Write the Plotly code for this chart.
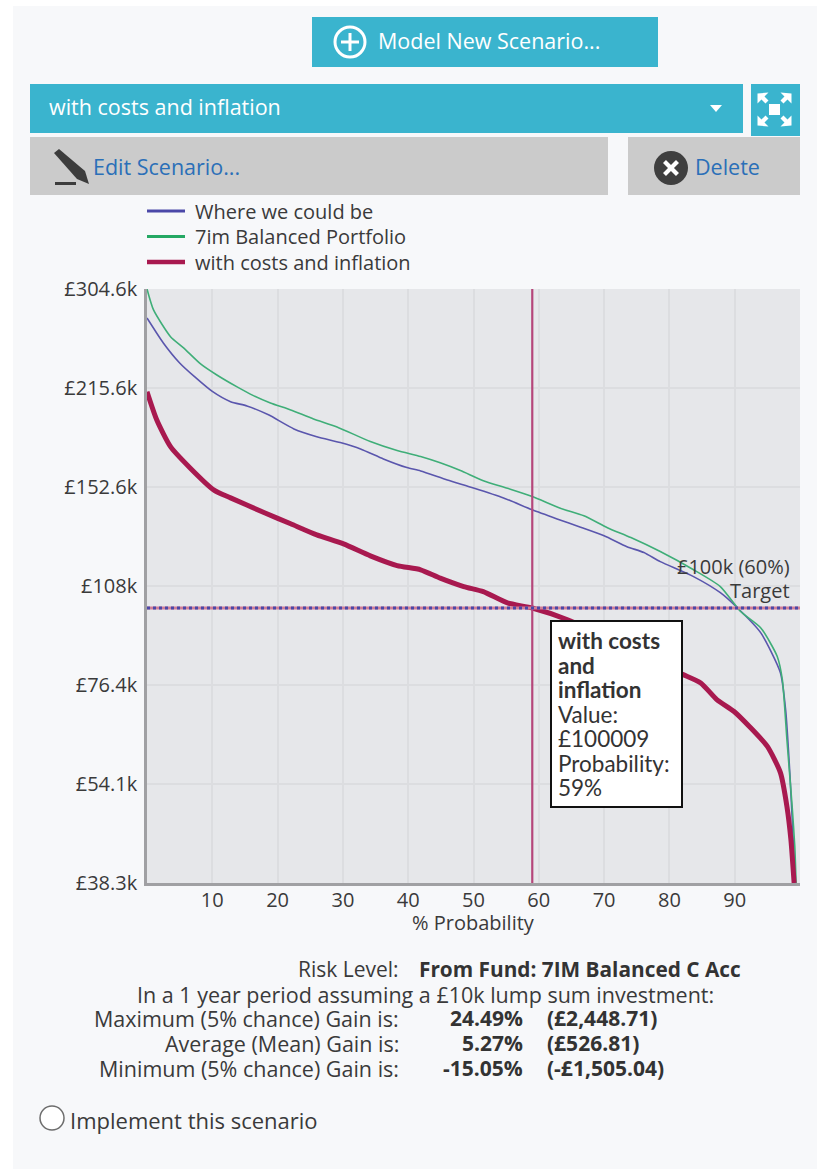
import plotly.graph_objects as go

# Outcome curves, in thousands of pounds, by % probability
where_prob = [0, 2.5, 5, 7.5, 10, 12.8, 15.3, 18.6, 22.5, 26, 29.6, 32.7, 36.2, 39.8, 41.9, 46, 50, 54.6, 59,
              62.8, 66.4, 70, 73.5, 76.1, 78.6, 83.7, 87.8, 90.4, 94, 97, 97.8, 98.5, 99, 99.2]
where_value = [275.3, 252.3, 235.3, 223.3, 213.0, 205.5, 202.5, 196.3, 186.9, 181.9, 178.2, 174.3, 168.3, 163.3,
               161.4, 156.4, 152.1, 146.9, 140.9, 136.5, 132.6, 128.7, 123.9, 121.4, 117.6, 111.6, 105.5, 100.1,
               91.7, 79.8, 70.1, 54.9, 43.5, 38.3]

fund_prob = [0, 1, 3.6, 5.6, 8.2, 10.7, 13.8, 16.3, 18.9, 22, 25.5, 29.1, 34.2, 38.3, 41.9, 44.9, 48, 51.5, 55.2,
             59, 63.3, 66.9, 70.5, 74.1, 78.6, 83.7, 87.8, 90.9, 94, 96.5, 97.3, 98, 98.8, 99.2, 99.4]
fund_value = [304.6, 283.1, 257.9, 248.0, 234.5, 225.6, 216.4, 209.9, 204.6, 199.7, 193.5, 188.2, 178.8, 173.3,
              169.7, 166.0, 161.6, 156.0, 151.9, 147.6, 141.7, 138.0, 132.4, 127.9, 121.8, 114.3, 107.8, 98.8,
              93.3, 84.5, 77.8, 63.1, 50.0, 43.5, 38.3]

costs_prob = [0, 1.5, 3.6, 6.6, 10.2, 12.8, 17.9, 22, 26, 30.1, 34.2, 38.3, 41.9, 44.9, 48.5, 51.5, 55.2, 59, 64.4,
              70, 76, 82.2, 84.8, 87.3, 89.9, 92.4, 95, 97, 98, 98.6, 99.1]
costs_value = [212.8, 192.8, 175.7, 163.1, 151.1, 146.9, 139.6, 134.2, 129.1, 125.1, 120.0, 116.0, 114.3, 111.0,
               107.8, 105.9, 101.8, 100.009, 96.0, 90.4, 84.0, 79.2, 77.0, 72.6, 69.7, 65.9, 61.7, 56.3, 50.0, 44.6,
               38.3]

series_names = ["Where we could be", "7im Balanced Portfolio", "with costs and inflation"]
value_ticks = [38.3, 54.1, 76.4, 108, 152.6, 215.6, 304.6]
value_tick_labels = ["£38.3k", "£54.1k", "£76.4k", "£108k", "£152.6k", "£215.6k", "£304.6k"]
prob_ticks = [10, 20, 30, 40, 50, 60, 70, 80, 90]
target_value = 100
selected_prob = 59

readout_bold = ["with costs", "and", "inflation"]
readout_plain = ["Value:", "£100009", "Probability:", "59%"]

summary_labels = ["Maximum (5% chance) Gain is:", "Average (Mean) Gain is:", "Minimum (5% chance) Gain is:"]
summary_pct = ["24.49%", "5.27%", "-15.05%"]
summary_amount = ["(£2,448.71)", "(£526.81)", "(-£1,505.04)"]

TEAL = "#3ab4ce"
GREY = "#cbcbcb"
INK = "#3a3a3a"
LINK = "#2a6fb8"
BLUE = "#5a56ad"
GREEN = "#3fae78"
RED = "#a8194f"
UI = "Open Sans"
TIP = "Lato"

# Page geometry: plot area spans 147..800 across and 289..883 down
L, R, T, B = 147, 800, 289, 883


def px(x):
    return (x - L) / (R - L)


def py(y):
    return (B - y) / (B - T)


def rect(x0, y0, x1, y1, fill, line=None, width=0, layer="above"):
    return dict(type="rect", xref="paper", yref="paper", x0=px(x0), x1=px(x1), y0=py(y0), y1=py(y1),
                fillcolor=fill, line=dict(color=line or fill, width=width), layer=layer)


def disc(cx, cy, r, fill, line=None, width=0):
    return dict(type="circle", xref="paper", yref="paper", x0=px(cx - r), x1=px(cx + r), y0=py(cy - r),
                y1=py(cy + r), fillcolor=fill, line=dict(color=line or fill, width=width), layer="above")


def poly(points, fill, line=None, width=0):
    d = "M" + " L".join(f"{px(x):.5f},{py(y):.5f}" for x, y in points) + " Z"
    return dict(type="path", xref="paper", yref="paper", path=d, fillcolor=fill,
                line=dict(color=line or fill, width=width), layer="above")


def label(x, y, text, size=15, color=INK, anchor="left", family=UI, bold=False):
    return dict(xref="paper", yref="paper", x=px(x), y=py(y), text=f"<b>{text}</b>" if bold else text,
                showarrow=False, xanchor=anchor, yanchor="middle", align=anchor, borderpad=0,
                font=dict(family=family, size=size, color=color))


fig = go.Figure()

for xs, ys, colour, w, name in [(where_prob, where_value, BLUE, 1.6, series_names[0]),
                                (fund_prob, fund_value, GREEN, 1.6, series_names[1]),
                                (costs_prob, costs_value, RED, 5, series_names[2])]:
    fig.add_trace(go.Scatter(x=xs, y=ys, mode="lines", name=name, showlegend=False,
                             line=dict(color=colour, width=w, shape="spline", smoothing=0.6)))

# Selected-probability marker and the dotted target level
fig.add_trace(go.Scatter(x=[selected_prob, selected_prob], y=[value_ticks[0], value_ticks[-1]], mode="lines",
                         showlegend=False, hoverinfo="skip", line=dict(color="#b5467a", width=2.2)))
fig.add_trace(go.Scatter(x=[0, 100], y=[target_value, target_value], mode="lines", showlegend=False,
                         hoverinfo="skip", line=dict(color="#cf7f98", width=3)))
fig.add_trace(go.Scatter(x=[0, 100], y=[target_value, target_value], mode="lines", showlegend=False,
                         hoverinfo="skip", line=dict(color="#4b48a8", width=3, dash="3px,3px")))

shapes = [
    # White page edges around the tinted panel
    rect(0, 0, 821, 6, "white", layer="below"),
    rect(0, 0, 13, 1169, "white", layer="below"),
    rect(817, 0, 821, 1169, "white", layer="below"),
    # Toolbar
    rect(312, 17, 658, 67, TEAL),
    disc(350, 42, 15, TEAL, "white", 3),
    rect(341, 40.5, 359, 43.5, "white"),
    rect(348.5, 33, 351.5, 51, "white"),
    rect(30, 84, 743, 133, TEAL),
    poly([(710, 105), (722, 105), (716, 112)], "white"),
    rect(751, 84, 800, 136, TEAL),
    rect(769, 104, 780, 115, "white"),
    rect(30, 137, 608, 195, GREY),
    rect(628, 137, 800, 195, GREY),
    # Pencil
    poly([(54, 153), (59, 149), (85, 171), (89, 184), (77, 179)], "#3c3c3c"),
    rect(55, 182, 76, 185, "#3c3c3c"),
    # Delete badge
    disc(671, 168, 17, "#3f3f3f"),
    poly([(663, 163), (666, 160), (671, 165), (676, 160), (679, 163), (674, 168), (679, 173), (676, 176),
          (671, 171), (666, 176), (663, 173), (668, 168)], "white"),
    # Value read-out box
    rect(551, 621, 682, 807, "white", "#111111", 2),
    # Radio button
    disc(52, 1118, 12, "white", "#6d6d6d", 1.5),
]

# Four corner arrows of the full-screen button
for sx, sy in [(-1, -1), (1, -1), (-1, 1), (1, 1)]:
    cx, cy = 774.5, 109.5
    arrow = [(17, 16), (17, 6), (13, 10), (9, 6), (6, 9), (10, 13), (6, 17)]
    shapes.append(poly([(cx + sx * a, cy + sy * b) for a, b in arrow], "white"))

annotations = [
    label(377, 40, "Model New Scenario...", 21.5, "white"),
    label(48, 107, "with costs and inflation", 21.5, "white"),
    label(92, 166, "Edit Scenario...", 21.5, LINK),
    label(694, 166, "Delete", 21.5, LINK),
    label(791, 566, "£100k (60%)", 20, INK, "right"),
    label(791, 590, "Target", 20, INK, "right"),
    label(473, 922, "% Probability", 20, INK, "center"),
    label(400, 969, "Risk Level:", 21, INK, "right"),
    label(418, 969, "From Fund: 7IM Balanced C Acc", 20.8, "#333333", "left", bold=True),
    label(425.5, 994, "In a 1 year period assuming a £10k lump sum investment:", 21.5, INK, "center"),
    label(69, 1120, "Implement this scenario", 22, INK),
]

# Legend rows are closer together than a Plotly legend allows at this text size
for row_y, name, colour, key_width in zip([211, 236.5, 262], series_names, ["#4b48a8", "#25a863", RED],
                                          [3, 3, 4.5]):
    shapes.append(rect(147, row_y - key_width / 2, 185, row_y + key_width / 2, colour))
    annotations.append(label(194, row_y, name, 20))

# The read-out lines sit closer together than the default line spacing
for i, line in enumerate(readout_bold + readout_plain):
    annotations.append(label(557, 640.5 + 24.5 * i, line, 22.5, "#333333", "left", TIP, i < len(readout_bold)))

for row_y, left, pct, amount in zip([1018, 1043, 1068], summary_labels, summary_pct, summary_amount):
    annotations += [
        label(400, row_y, left, 21.5, INK, "right"),
        label(524, row_y, pct, 21, "#333333", "right", bold=True),
        label(546, row_y, amount, 21, "#333333", "left", bold=True),
    ]

fig.update_layout(
    width=821, height=1169, autosize=False,
    margin=dict(l=L, r=821 - R, t=T, b=1169 - B, pad=0),
    paper_bgcolor="#f7f8fa", plot_bgcolor="#e6e7ea",
    font=dict(family=UI, size=20, color=INK),
    showlegend=False,
    xaxis=dict(range=[0, 100], tickvals=prob_ticks, ticks="", ticklabelstandoff=-3, gridcolor="#dcdde0",
               gridwidth=1.5, showline=True, linecolor="#a0a0a3", linewidth=2.5, zeroline=False,
               tickfont=dict(family=UI, size=20, color=INK)),
    yaxis=dict(type="log", range=[1.5832, 2.4837], tickvals=value_ticks, ticktext=value_tick_labels,
               ticks="outside", ticklen=3, tickcolor="rgba(0,0,0,0)", gridcolor="#dcdde0", gridwidth=1.5,
               showline=True, linecolor="#a0a0a3", linewidth=2.5, zeroline=False,
               tickfont=dict(family=UI, size=20, color=INK)),
    shapes=shapes, annotations=annotations,
)

fig.write_html("out.html", config={"displayModeBar": False})
